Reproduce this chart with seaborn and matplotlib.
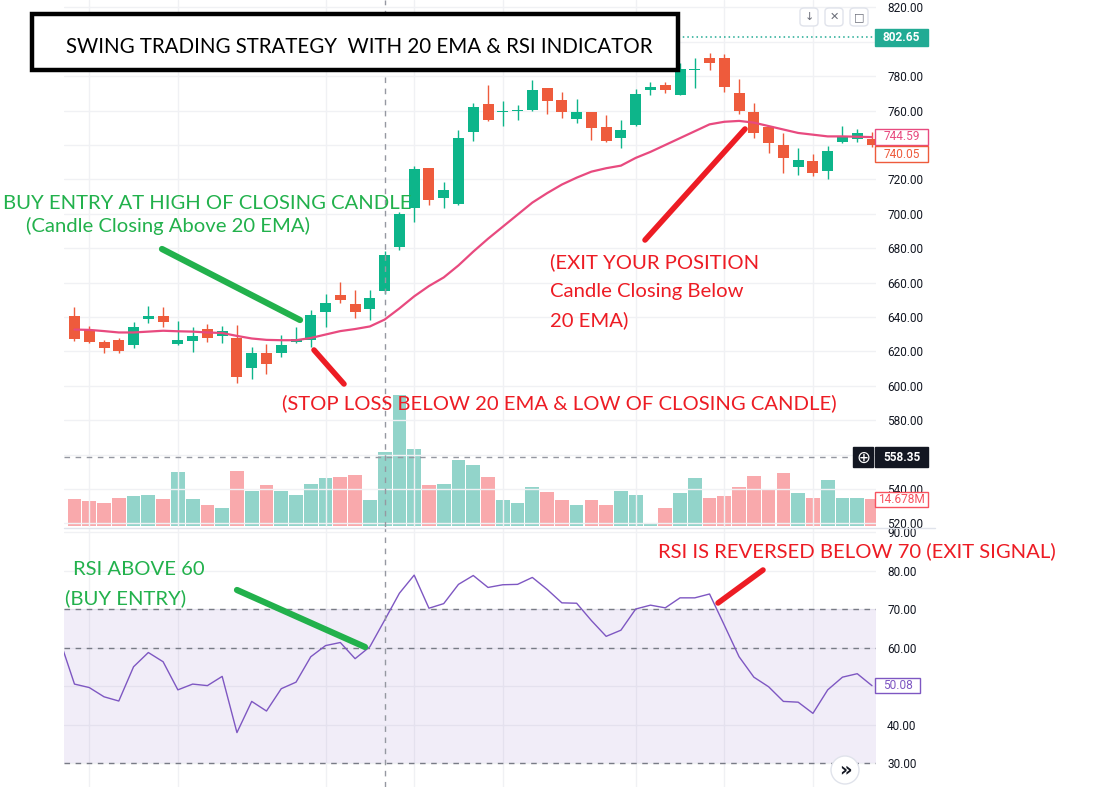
import matplotlib
matplotlib.use('Agg')
import matplotlib.pyplot as plt
import matplotlib.patches as patches
from matplotlib.lines import Line2D
import seaborn as sns
import numpy as np
import pandas as pd

sns.set_style("white")
plt.rcParams['font.family'] = ['Lato', 'DejaVu Sans']

# daily candles (55 sessions)
opens = [640.5, 632.3, 625.5, 626.5, 623.8, 638.9, 640.5, 624.4, 626.1, 633.3,
         629.0, 627.7, 610.4, 618.8, 619.1, 625.5, 626.5, 643.0, 652.7, 647.4,
         644.7, 655.2, 680.8, 703.4, 726.5, 708.9, 705.8, 747.6, 763.7, 758.9,
         759.5, 760.2, 773.0, 766.0, 755.0, 759.1, 750.3, 744.0, 751.5, 772.0,
         774.8, 769.1, 783.6, 790.5, 790.5, 770.1, 759.2, 750.3, 739.9, 727.3,
         730.6, 724.9, 741.8, 743.4, 743.5]
highs = [645.7, 634.6, 626.4, 627.7, 637.2, 646.3, 645.7, 637.6, 633.9, 635.8,
         634.6, 635.4, 622.6, 624.2, 629.8, 633.9, 644.0, 653.3, 660.6, 655.6,
         655.6, 678.2, 701.1, 728.0, 726.8, 718.2, 748.6, 764.3, 775.0, 765.3,
         763.3, 777.7, 773.3, 770.9, 766.6, 759.4, 757.3, 754.4, 772.3, 776.9,
         776.9, 787.4, 790.5, 793.4, 792.8, 778.3, 764.5, 750.6, 746.7, 738.1,
         734.5, 739.3, 750.8, 749.2, 747.6]
lows = [625.9, 625.0, 619.1, 619.1, 622.0, 636.6, 634.3, 624.0, 619.7, 625.5,
        624.9, 601.7, 604.0, 607.0, 616.6, 625.0, 622.6, 634.3, 647.9, 639.5,
        638.3, 653.5, 678.8, 695.0, 705.4, 703.1, 705.0, 742.4, 753.8, 750.8,
        754.6, 759.8, 757.9, 755.6, 752.7, 743.0, 741.8, 738.0, 751.2, 769.1,
        770.0, 768.9, 773.4, 783.5, 770.9, 757.9, 743.8, 735.4, 724.0, 722.6,
        721.7, 720.0, 741.0, 741.8, 739.1]
closes = [627.1, 625.5, 622.0, 620.3, 633.9, 640.5, 637.2, 626.5, 628.8, 627.9,
          631.7, 605.2, 618.8, 612.8, 623.6, 627.1, 641.2, 648.0, 650.0, 643.0,
          650.8, 675.9, 699.8, 726.0, 708.1, 713.7, 744.0, 762.0, 754.6, 759.7,
          760.2, 771.9, 765.6, 759.2, 759.0, 750.0, 742.2, 748.6, 769.5, 773.6,
          772.0, 784.1, 784.2, 787.7, 773.8, 759.8, 746.9, 741.2, 732.2, 731.3,
          724.0, 736.4, 744.7, 746.7, 740.05]
volume_m = [14.7, 13.6, 12.5, 15.2, 16.3, 16.9, 14.7, 29.4, 14.7, 11.4,
            9.8, 29.9, 19.0, 22.3, 19.0, 16.9, 22.8, 26.1, 26.6, 27.7,
            14.1, 40.2, 71.2, 41.9, 22.3, 22.8, 35.9, 33.2, 26.6, 14.1,
            12.5, 21.2, 18.5, 14.1, 11.4, 14.1, 11.4, 19.0, 16.9, 1.6,
            9.8, 17.9, 26.1, 15.2, 16.3, 21.2, 27.2, 19.6, 28.8, 17.9,
            15.2, 25.0, 15.2, 15.2, 14.678]
ema20 = [632.7, 632.5, 631.8, 631.0, 631.0, 631.5, 632.0, 631.7, 631.5, 631.0,
         630.7, 629.0, 627.5, 626.7, 626.5, 626.5, 627.8, 629.8, 631.8, 633.0,
         634.5, 638.5, 645.0, 652.0, 658.0, 663.0, 670.0, 678.0, 685.5, 692.5,
         699.5, 706.5, 712.0, 717.0, 721.0, 724.5, 726.5, 728.0, 732.5, 736.0,
         740.0, 744.0, 748.0, 752.0, 753.5, 754.0, 753.0, 751.0, 749.0, 747.0,
         746.0, 745.0, 745.0, 744.8, 744.59]
# RSI starts one session earlier (left edge of the pane)
rsi = [62.0, 50.5, 49.6, 47.2, 46.1, 55.0, 58.7, 56.3, 49.0, 50.5, 50.1,
       52.5, 37.9, 46.0, 43.5, 49.3, 51.0, 57.6, 60.5, 61.3, 57.1,
       60.2, 67.1, 74.1, 78.8, 70.2, 71.4, 76.4, 78.7, 75.6, 76.3,
       76.4, 78.2, 75.1, 71.6, 71.5, 67.0, 62.9, 64.5, 70.0, 71.0,
       70.3, 72.9, 72.9, 73.9, 65.8, 57.6, 52.3, 49.8, 46.0, 45.8,
       42.9, 49.0, 52.3, 53.2, 50.08]
price_ticks = list(range(520, 821, 20))
rsi_ticks = [30, 40, 50, 60, 70, 80, 90]
hidden_ticks = [800, 740, 560, 50]   # sit under the value tags
date_grid = [1, 7, 17, 23, 29, 38, 44, 50]
cross_idx = 21
cross_price = 558.35
last_price = 802.65

UP, DOWN = '#0db58a', '#ee5b3c'
VUP, VDOWN = '#92d4ca', '#f9a9ac'
EMA_C, RSI_C = '#e84a7f', '#7e57c2'
GRID = '#f0f1f4'
TXT = '#131722'
GREEN, RED = '#22b14c', '#ed1c24'

df = pd.DataFrame({'o': opens, 'h': highs, 'l': lows, 'c': closes,
                   'vol': volume_m, 'ema': ema20})
df['i'] = np.arange(len(df))
df['up'] = df['c'] >= df['o']

W, H = 1095, 787
fig = plt.figure(figsize=(W / 100, H / 100), dpi=100)


def fxy(x, y):
    return x / W, 1 - y / H


left, right = 64, 876
ax_v = fig.add_axes([left / W, 1 - 527 / H, (right - left) / W, 527 / H])
ax_p = fig.add_axes([left / W, 1 - 527 / H, (right - left) / W, 527 / H], sharex=ax_v)
ax_r = fig.add_axes([left / W, 0, (right - left) / W, 259 / H], sharex=ax_v)
ax_p.patch.set_visible(False)

# volume
ax_v.bar(df['i'], df['vol'], width=0.93, color=np.where(df['up'], VUP, VDOWN), lw=0)
ax_v.set_ylim(-0.54, 285.9)
ax_v.axis('off')

# candles
cols = np.where(df['up'], UP, DOWN)
ax_p.vlines(df['i'], df['l'], df['h'], colors=cols, lw=1, zorder=3)
body = np.maximum((df['c'] - df['o']).abs(), 0.7)
ax_p.bar(df['i'], body, bottom=np.minimum(df['o'], df['c']), width=0.745,
         color=cols, lw=0, zorder=4)
sns.lineplot(data=df, x='i', y='ema', ax=ax_p, color=EMA_C, lw=1.6, zorder=5)
ax_p.axhline(last_price, color='#22ab94', ls=(0, (1, 2)), lw=1.1, zorder=2)
ax_p.axhline(cross_price, color='#9598a1', ls=(0, (4, 4)), lw=1, zorder=6)
ax_p.axvline(cross_idx, color='#9598a1', ls=(0, (4, 4)), lw=1, zorder=6)
ax_p.set_ylim(517.9, 824.3)
ax_p.set_xlim(-0.71, 54.27)

# RSI pane
rsi_x = np.arange(-1, len(rsi) - 1)
ax_r.axhspan(30, 70, color=RSI_C, alpha=0.1, lw=0)
for lvl in (30, 60, 70):
    ax_r.axhline(lvl, color='#787b86', ls=(0, (4, 4)), lw=1)
sns.lineplot(x=rsi_x, y=rsi, ax=ax_r, color=RSI_C, lw=1)
ax_r.axvline(cross_idx, color='#9598a1', ls=(0, (4, 4)), lw=1)
ax_r.set_ylim(23.77, 91.04)

for ax, ticks in ((ax_p, price_ticks), (ax_r, rsi_ticks)):
    ax.set_yticks(ticks)
    ax.set_yticklabels(['' if t in hidden_ticks else '{:.2f}'.format(t) for t in ticks])
    ax.yaxis.tick_right()
    ax.tick_params(axis='y', length=0, pad=8, labelsize=8.5, labelcolor=TXT)
    for lab in ax.get_yticklabels():
        lab.set_family('Roboto')
    ax.set_xticks(date_grid)
    ax.tick_params(axis='x', length=0, labelbottom=False)
    ax.grid(True, color=GRID, lw=1)
    ax.set_axisbelow(True)
    ax.set_xlabel('')
    ax.set_ylabel('')
    for s in ax.spines.values():
        s.set_visible(False)

# pane separator
fig.add_artist(Line2D([left / W, 935 / W], [1 - 527.5 / H] * 2, color='#e0e3eb', lw=1))


def tag(ax, value, text, fc, ec, tc, h=16, x0=875, x1=928, bold=False, dy=0):
    yd = ax.transData.transform((0, value))[1] - dy
    fig.add_artist(patches.Rectangle((x0 / W, (yd - h / 2) / H), (x1 - x0) / W, h / H,
                                     transform=fig.transFigure, fc=fc, ec=ec, lw=1, zorder=10))
    fig.text((x0 + x1) / 2 / W, yd / H, text, ha='center', va='center', color=tc,
             fontsize=8.6, family='Roboto', fontweight='bold' if bold else 'normal', zorder=11)
    return yd


tag(ax_p, last_price, '802.65', '#22ab94', '#22ab94', 'white', h=17, bold=True)
tag(ax_p, ema20[-1], '744.59', 'white', EMA_C, EMA_C, dy=-0.5)
tag(ax_p, closes[-1], '740.05', 'white', DOWN, DOWN, dy=9.5)
yc = tag(ax_p, cross_price, '558.35', TXT, TXT, 'white', h=20, bold=True)
fig.add_artist(patches.Rectangle((853 / W, (yc - 10) / H), 20 / W, 20 / H,
                                 transform=fig.transFigure, fc=TXT, ec=TXT, zorder=10))
fig.text(863 / W, yc / H, '\u2295', ha='center', va='center', color='white',
         fontsize=12, family='DejaVu Sans', zorder=11)
tag(ax_v, volume_m[-1], '14.678M', 'white', '#f7525f', '#f7525f', h=15)
tag(ax_r, rsi[-1], '50.08', 'white', RSI_C, RSI_C, h=15, x1=920)

# toolbar icons
for xc, sym in ((809, '\u2193'), (834, '\u2715'), (859, '\u25a1')):
    fig.add_artist(patches.FancyBboxPatch(((xc - 9) / W, 1 - 26 / H), 18 / W, 18 / H,
                                          boxstyle='round,pad=0,rounding_size=0.004',
                                          transform=fig.transFigure, fc='white', ec='#e0e3eb', lw=1))
    fig.text(xc / W, 1 - 17 / H, sym, ha='center', va='center', color='#6a6d78',
             fontsize=8, family='DejaVu Sans')
fig.add_artist(patches.Ellipse(fxy(845, 770), 28 / W, 28 / H, transform=fig.transFigure,
                               fc='white', ec='#e0e3eb', lw=1, zorder=10))
fig.text(845 / W, 1 - 770 / H, '\u00bb', ha='center', va='center', color=TXT,
         fontsize=14, fontweight='bold', family='DejaVu Sans', zorder=11)

# title box
fig.add_artist(patches.Rectangle(fxy(32, 70), 646 / W, 56 / H, transform=fig.transFigure,
                                 fc='white', ec='black', lw=3.2, zorder=12))
fig.text(66 / W, 1 - 53 / H, 'SWING TRADING STRATEGY  WITH 20 EMA & RSI INDICATOR',
         fontsize=14.8, color='black', va='baseline', zorder=13)

# hand-drawn notes
notes = [
    (3, 209, 'BUY ENTRY AT HIGH OF CLOSING CANDLE', GREEN),
    (26, 232, '(Candle Closing Above 20 EMA)', GREEN),
    (282, 409, '(STOP LOSS BELOW 20 EMA & LOW OF CLOSING CANDLE)', RED),
    (550, 268, '(EXIT YOUR POSITION', RED),
    (550, 297, 'Candle Closing Below', RED),
    (550, 326, '20 EMA)', RED),
    (73, 575, 'RSI ABOVE 60', GREEN),
    (65, 604, '(BUY ENTRY)', GREEN),
    (658, 557, 'RSI IS REVERSED BELOW 70 (EXIT SIGNAL)', RED),
]
for x, y, s, c in notes:
    fig.text(x / W, 1 - y / H, s, color=c, fontsize=14.6, va='baseline', zorder=13)

strokes = [
    ((162, 249), (300, 320), GREEN, 4.5),
    ((314, 350), (344, 384), RED, 4),
    ((645, 240), (745, 129), RED, 4),
    ((237, 590), (365, 647), GREEN, 4.5),
    ((718, 603), (763, 570), RED, 4),
]
for p0, p1, c, lw in strokes:
    (xa, ya), (xb, yb) = fxy(*p0), fxy(*p1)
    fig.add_artist(Line2D([xa, xb], [ya, yb], color=c, lw=lw, solid_capstyle='round', zorder=13))

plt.savefig('out.png', dpi=100)
plt.close(fig)
